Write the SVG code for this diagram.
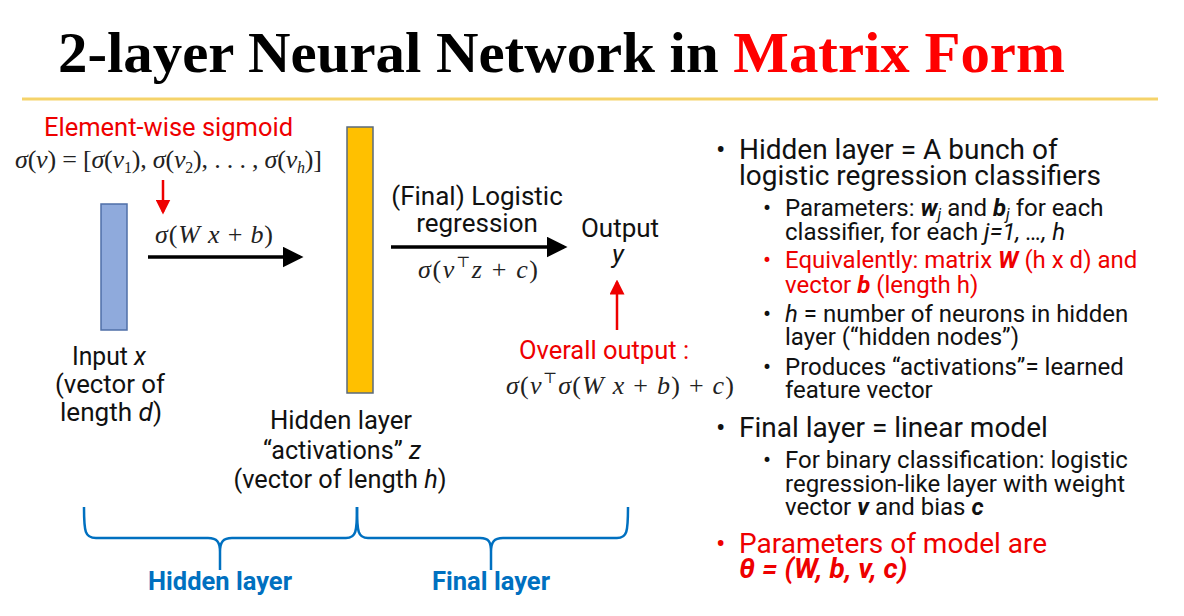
<svg xmlns="http://www.w3.org/2000/svg" width="1184" height="616" viewBox="0 0 1184 616">
<style>
.title{font-family:"Liberation Serif",serif;font-weight:bold;font-size:56px}
.sans{font-family:Roboto,"Liberation Sans",sans-serif}
.math{font-family:"Liberation Serif","DejaVu Serif",serif;font-size:26px;fill:#222}
.mi{font-style:italic}
.lbl{font-family:Roboto,"Liberation Sans",sans-serif;font-size:26px;fill:#111}
.b1{font-family:Roboto,"Liberation Sans",sans-serif;font-size:28px;fill:#111}
.b2{font-family:Roboto,"Liberation Sans",sans-serif;font-size:24px;fill:#111}
.blue{font-family:Roboto,"Liberation Sans",sans-serif;font-size:25px;font-weight:bold;fill:#0070c0}
.brace{fill:none;stroke:#0070c0;stroke-width:2.5}
.conn{stroke:#000;stroke-width:3.5;fill:none}
.rconn{stroke:#ee0000;stroke-width:2.5;fill:none}
.red{fill:#ee0000}
</style>
<defs>
<marker id="ah" markerWidth="6" markerHeight="6" refX="5" refY="3" orient="auto" markerUnits="strokeWidth">
<path d="M0,0 L6,3 L0,6 z" fill="#000"/>
</marker>
<marker id="rah" markerWidth="6" markerHeight="6" refX="5" refY="3" orient="auto" markerUnits="strokeWidth">
<path d="M0,0 L6,3 L0,6 z" fill="#ee0000"/>
</marker>
</defs>
<rect width="1184" height="616" fill="#fff"/>
<g id="title">
<text class="title" x="58" y="72" textLength="1007" lengthAdjust="spacingAndGlyphs">2-layer Neural Network in <tspan fill="#ff0000">Matrix Form</tspan></text>
<line x1="22" y1="99" x2="1158" y2="99" stroke="#f5d36a" stroke-width="3"/>
</g>
<g id="sigmoid-note">
<text class="sans red" x="44" y="136" font-size="25.5">Element-wise sigmoid</text>
<text class="math" x="15" y="168" font-size="24" textLength="307" lengthAdjust="spacing"><tspan class="mi">σ</tspan>(<tspan class="mi">v</tspan>) = [<tspan class="mi">σ</tspan>(<tspan class="mi">v</tspan><tspan font-size="16" dy="5">1</tspan><tspan dy="-5">), </tspan><tspan class="mi">σ</tspan>(<tspan class="mi">v</tspan><tspan font-size="16" dy="5">2</tspan><tspan dy="-5">), . . . , </tspan><tspan class="mi">σ</tspan>(<tspan class="mi">v</tspan><tspan font-size="16" dy="5" class="mi">h</tspan><tspan dy="-5">)]</tspan></text>
</g>
<g id="input">
<rect x="101" y="204" width="26" height="126" fill="#8faadc" stroke="#4f6fa8" stroke-width="1.5"/>
<text class="lbl" x="109" y="365" text-anchor="middle" textLength="74" lengthAdjust="spacingAndGlyphs">Input <tspan font-style="italic">x</tspan></text>
<text class="lbl" x="110" y="393" text-anchor="middle" textLength="110" lengthAdjust="spacingAndGlyphs">(vector of</text>
<text class="lbl" x="111" y="421" text-anchor="middle" textLength="102" lengthAdjust="spacingAndGlyphs">length <tspan font-style="italic">d</tspan>)</text>
</g>
<g id="hidden">
<rect x="347" y="127" width="26" height="266" fill="#ffc000" stroke="#5a6a7c" stroke-width="1.5"/>
<text class="lbl" x="341" y="429" text-anchor="middle" textLength="142" lengthAdjust="spacingAndGlyphs">Hidden layer</text>
<text class="lbl" x="342" y="459" text-anchor="middle" textLength="158" lengthAdjust="spacingAndGlyphs">“activations” <tspan font-style="italic">z</tspan></text>
<text class="lbl" x="340" y="488" text-anchor="middle" textLength="213" lengthAdjust="spacingAndGlyphs">(vector of length <tspan font-style="italic">h</tspan>)</text>
</g>
<g id="output">
<text class="lbl" x="620" y="237" text-anchor="middle" font-size="25">Output</text>
<text class="lbl" x="618" y="263" text-anchor="middle" font-style="italic" font-size="25">y</text>
<text class="sans red" x="604" y="359" text-anchor="middle" font-size="25.5">Overall output :</text>
<text class="math" x="506" y="394" textLength="228" lengthAdjust="spacing"><tspan class="mi">σ</tspan>(<tspan class="mi">v</tspan><tspan font-size="15" dy="-11">⊤</tspan><tspan dy="11" class="mi">σ</tspan>(<tspan class="mi">W x</tspan> + <tspan class="mi">b</tspan>) + <tspan class="mi">c</tspan>)</text>
</g>
<g id="connectors">
<line class="conn" x1="148" y1="257" x2="300" y2="257" marker-end="url(#ah)"/>
<line class="conn" x1="391" y1="247" x2="564" y2="247" marker-end="url(#ah)"/>
<line class="rconn" x1="163" y1="180" x2="163" y2="212" marker-end="url(#rah)"/>
<line class="rconn" x1="617" y1="330" x2="617" y2="282" marker-end="url(#rah)"/>
</g>
<g id="edge-labels">
<text class="math" x="155" y="243" textLength="118" lengthAdjust="spacing"><tspan class="mi">σ</tspan>(<tspan class="mi">W x</tspan> + <tspan class="mi">b</tspan>)</text>
<text class="lbl" x="477" y="205" text-anchor="middle" font-size="24">(Final) Logistic</text>
<text class="lbl" x="477" y="232" text-anchor="middle" font-size="24">regression</text>
<text class="math" x="418" y="278" textLength="120" lengthAdjust="spacing"><tspan class="mi">σ</tspan>(<tspan class="mi">v</tspan><tspan font-size="15" dy="-11">⊤</tspan><tspan dy="11" class="mi">z</tspan> + <tspan class="mi">c</tspan>)</text>
</g>
<g id="braces">
<path class="brace" d="M84,507 C84,532 85,538 96,538 L208,538 C217,538 220,542 220,552 L220,570 M220,552 C220,542 223,538 232,538 L346,538 C356,538 357,532 357,507"/>
<path class="brace" d="M357,507 C357,532 358,538 368,538 L480,538 C489,538 491,542 491,552 L491,570 M491,552 C491,542 494,538 503,538 L617,538 C627,538 628,532 628,507"/>
<text class="blue" x="220" y="590" text-anchor="middle" textLength="144" lengthAdjust="spacingAndGlyphs">Hidden layer</text>
<text class="blue" x="491" y="590" text-anchor="middle" textLength="118" lengthAdjust="spacingAndGlyphs">Final layer</text>
</g>
<g id="bullets">
<text class="b1" x="716" y="159">•</text>
<text class="b1" x="739" y="159">Hidden layer = A bunch of</text>
<text class="b1" x="739" y="185">logistic regression classifiers</text>
<text class="b2" x="763" y="216">•</text>
<text class="b2" x="785" y="216">Parameters: <tspan font-weight="bold" font-style="italic">w</tspan><tspan font-style="italic" font-size="16" dy="4">j</tspan><tspan dy="-4"> and </tspan><tspan font-weight="bold" font-style="italic">b</tspan><tspan font-style="italic" font-size="16" dy="4">j</tspan><tspan dy="-4"> for each</tspan></text>
<text class="b2" x="785" y="240">classifier, for each <tspan font-style="italic">j=1, …, h</tspan></text>
<text class="b2 red" x="763" y="268">•</text>
<text class="b2 red" x="785" y="268">Equivalently: matrix <tspan font-weight="bold" font-style="italic">W</tspan> (h x d) and</text>
<text class="b2 red" x="785" y="293">vector <tspan font-weight="bold" font-style="italic">b</tspan> (length h)</text>
<text class="b2" x="763" y="322">•</text>
<text class="b2" x="785" y="322"><tspan font-style="italic">h</tspan> = number of neurons in hidden</text>
<text class="b2" x="785" y="345">layer (“hidden nodes”)</text>
<text class="b2" x="763" y="375">•</text>
<text class="b2" x="785" y="375">Produces “activations”= learned</text>
<text class="b2" x="785" y="398">feature vector</text>
<text class="b1" x="716" y="437">•</text>
<text class="b1" x="739" y="437">Final layer = linear model</text>
<text class="b2" x="763" y="468">•</text>
<text class="b2" x="785" y="468">For binary classification: logistic</text>
<text class="b2" x="785" y="492">regression-like layer with weight</text>
<text class="b2" x="785" y="515">vector <tspan font-weight="bold" font-style="italic">v</tspan> and bias <tspan font-weight="bold" font-style="italic">c</tspan></text>
<text class="b1 red" x="716" y="553">•</text>
<text class="b1 red" x="739" y="553">Parameters of model are</text>
<text class="b1 red" x="739" y="578" font-weight="bold" font-style="italic">θ = (W, b, v, c)</text>
</g>
</svg>
